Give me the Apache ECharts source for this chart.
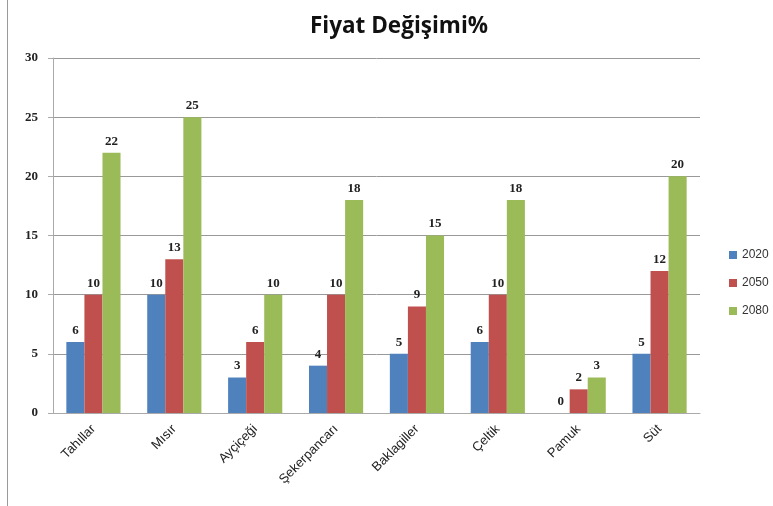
<!DOCTYPE html>
<html>
<head>
    <meta charset="utf-8"/>
    <title>Fiyat Değişimi%</title>
    <script src="https://cdn.jsdelivr.net/npm/echarts@6/dist/echarts.min.js"></script>
    <style>
        html, body { margin: 0; padding: 0; background: #fff; }
        #chart { width: 773px; height: 506px; }
        .frame { position: absolute; left: 7px; top: 0; width: 1px; height: 506px; background: #9a9a9a; }
    </style>
</head>
<body>
<div class="frame"></div>
<div id="chart"></div>
<script>
    // veriler
    var categories = ['Tahıllar', 'Mısır', 'Ayçiçeği', 'Şekerpancarı', 'Baklagiller', 'Çeltik', 'Pamuk', 'Süt'];
    var seriesNames = ['2020', '2050', '2080'];
    var values2020 = [6, 10, 3, 4, 5, 6, 0, 5];
    var values2050 = [10, 13, 6, 10, 9, 10, 2, 12];
    var values2080 = [22, 25, 10, 18, 15, 18, 3, 20];
    var colors = ['#4F81BD', '#C0504D', '#9BBB59'];

    var labelStyle = {
        show: true,
        position: 'top',
        distance: 5,
        color: '#222',
        fontFamily: 'Liberation Serif',
        fontWeight: 'bold',
        fontSize: 13
    };

    function makeSeries(name, data, idx) {
        return {
            name: name,
            type: 'bar',
            data: data,
            barGap: '0%',
            barCategoryGap: '33%',
            itemStyle: { color: colors[idx] },
            label: labelStyle
        };
    }

    var chart = echarts.init(document.getElementById('chart'));
    var option = {
        animation: false,
        title: {
            text: 'Fiyat Değişimi%',
            left: 305,
            top: 10,
            textStyle: { fontFamily: 'Open Sans', fontWeight: 'bold', fontSize: 22.5, color: '#111' }
        },
        legend: {
            orient: 'vertical',
            left: 724,
            top: 244,
            itemWidth: 8,
            itemHeight: 8,
            itemGap: 16,
            icon: 'rect',
            textStyle: { fontFamily: 'Liberation Sans', fontSize: 12, color: '#333' },
            data: seriesNames
        },
        grid: { left: 53, right: 73, top: 58, bottom: 93 },
        xAxis: {
            type: 'category',
            data: categories,
            axisLine: { lineStyle: { color: '#aaa' } },
            axisTick: { show: false },
            axisLabel: {
                rotate: 45,
                margin: 14,
                fontFamily: 'Liberation Sans',
                fontSize: 13,
                color: '#222'
            }
        },
        yAxis: {
            type: 'value',
            min: 0,
            max: 30,
            interval: 5,
            axisLine: { show: true, lineStyle: { color: '#aaa' } },
            axisTick: { show: true, length: 5, lineStyle: { color: '#aaa' } },
            splitLine: { lineStyle: { color: '#999' } },
            axisLabel: {
                margin: 15,
                fontFamily: 'Liberation Serif',
                fontWeight: 'bold',
                fontSize: 13,
                color: '#222'
            }
        },
        series: [
            makeSeries(seriesNames[0], values2020, 0),
            makeSeries(seriesNames[1], values2050, 1),
            makeSeries(seriesNames[2], values2080, 2)
        ]
    };
    chart.setOption(option);
</script>
</body>
</html>
